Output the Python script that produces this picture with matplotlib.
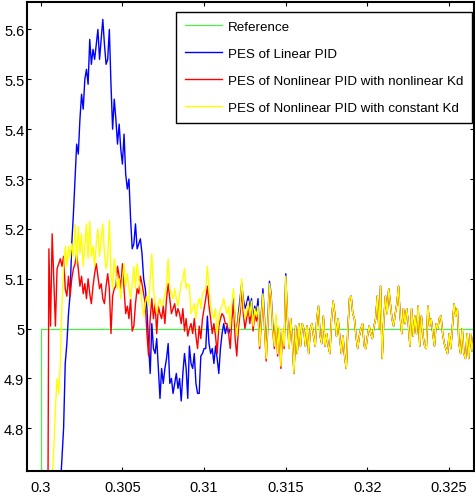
import numpy as np
import matplotlib
matplotlib.use('Agg')
import matplotlib.pyplot as plt
from matplotlib.ticker import FormatStrFormatter

plt.rcParams['font.family'] = ['Liberation Sans', 'DejaVu Sans']

# sample grid, 0.1 ms steps from 0.3 s
t = np.round(0.3 + 0.0001 * np.arange(266), 4)

ref_t = [0.299, 0.3, 0.3, 0.327]
ref_v = [0.0, 0.0, 5.0, 5.0]

# linear PID, before the three traces merge
blue_head = [
    2.6, 3.0, 3.35, 3.65, 3.9, 4.1, 4.25, 4.38, 4.48, 4.56, 4.62, 4.66,
    4.68, 4.74, 4.80, 4.93, 4.97, 5.03, 5.07, 5.17,
    5.23, 5.30, 5.37, 5.35, 5.42, 5.47, 5.44, 5.50, 5.52, 5.49,
    5.58, 5.53, 5.56, 5.54, 5.57, 5.60, 5.54, 5.58, 5.62, 5.57,
    5.53, 5.54, 5.60, 5.49, 5.40, 5.46, 5.42, 5.37, 5.41, 5.36,
    5.33, 5.39, 5.31, 5.28, 5.30, 5.22, 5.16, 5.17, 5.21, 5.16,
    5.17, 5.18, 5.15, 5.10, 5.08, 5.04, 4.97, 4.91, 5.01, 4.96,
    4.95, 4.98, 4.92, 4.86, 4.92, 4.89, 4.92, 4.94, 4.97, 4.89,
    4.90, 4.87, 4.89, 4.91, 4.88, 4.90, 4.855, 4.91, 4.95, 4.92,
    4.86, 4.965, 4.93, 4.92, 4.95, 4.89, 4.87, 4.87, 4.945, 4.95,
    4.96, 4.96, 5.025, 4.97, 4.95, 4.96, 4.93, 4.965, 4.94, 4.91,
    4.96, 4.99, 5.01, 4.99, 5.005, 4.99,
]
blue_settle = [
    5.0, 5.03, 5.06, 5.02, 4.99, 5.03, 5.06, 5.09, 5.06, 5.04,
    5.05, 5.065, 5.04, 5.06, 5.02, 5.045, 5.03, 5.06, 4.98, 5.03,
    5.08, 5.02, 4.95, 5.02, 5.095, 5.07, 5.01, 4.975, 5.02, 4.965,
    5.0, 4.94, 4.99, 4.97, 5.11, 5.02, 4.965,
]

# nonlinear PID with nonlinear Kd
red_head = [
    2.4, 3.0, 3.5, 3.9, 4.3,
    5.16, 5.005, 5.19, 5.10, 5.005,
    5.12, 5.13, 5.14, 5.125, 5.145, 5.08, 5.065, 5.105, 5.065, 5.10,
    5.12, 5.13, 5.15, 5.12, 5.085, 5.105, 5.07, 5.09, 5.06, 5.10,
    5.07, 5.05, 5.085, 5.11, 5.13, 5.105, 5.08, 5.09, 5.06, 5.05,
    5.085, 5.11, 5.08, 4.99, 5.065, 5.08, 5.085, 5.125, 5.105, 5.08,
    5.13, 5.08, 5.03, 5.045, 5.02, 5.06, 4.995, 5.005, 5.05, 5.08,
    5.07, 5.105, 5.09, 5.07, 5.05, 4.99, 4.945, 5.02, 5.06, 5.02,
    5.05, 4.99, 5.045, 5.03, 5.02, 5.045, 5.01, 5.06, 5.09, 5.06,
    5.03, 5.04, 5.05, 5.025, 5.04, 5.03, 5.01, 5.04, 4.995, 5.02,
    4.985, 5.0, 5.01, 4.99, 5.02, 4.985, 4.96, 5.005, 4.98, 5.02,
    5.04, 5.06, 5.085, 5.045, 5.02, 4.99, 5.01, 4.985, 4.95, 5.005,
    5.02, 5.03, 5.025, 5.01, 5.01, 4.99,
]
red_settle = [
    4.96, 5.02, 5.05, 4.98, 4.945, 5.0, 5.03, 5.08, 5.03, 5.0,
    5.02, 5.04, 5.01, 5.04, 4.995, 5.03, 5.015, 5.03, 4.96, 5.01,
    5.06, 5.0, 4.935, 5.0, 5.08, 5.06, 4.995, 4.96, 5.02, 4.945,
    5.0, 4.92, 4.995, 4.96, 5.10, 5.02, 4.96,
]

# nonlinear PID with constant Kd
yellow_head = [
    3.4, 3.75, 4.05, 4.28, 4.45, 4.57, 4.65, 4.70,
    4.76, 4.84,
    4.90, 4.87, 4.93, 5.05, 5.12, 5.165, 5.125, 5.165, 5.14, 5.17,
    5.145, 5.21, 5.13, 5.205, 5.15, 5.19, 5.125, 5.165, 5.21, 5.14,
    5.215, 5.145, 5.165, 5.125, 5.17, 5.20, 5.145, 5.18, 5.21, 5.15,
    5.12, 5.14, 5.217, 5.11, 5.08, 5.14, 5.11, 5.08, 5.10, 5.06,
    5.10, 5.13, 5.085, 5.11, 5.08, 5.06, 5.09, 5.125, 5.08, 5.13,
    5.10, 5.08, 5.05, 5.025, 5.05, 5.065, 5.045, 5.10, 5.15, 5.08,
    5.05, 5.03, 5.05, 5.06, 5.045, 5.05, 5.07, 5.085, 5.14, 5.08,
    5.07, 5.06, 5.08, 5.06, 5.045, 5.07, 5.09, 5.10, 5.12, 5.08,
    5.09, 5.085, 5.03, 5.04, 5.05, 5.02, 5.05, 5.06, 5.04, 5.07,
    5.075, 5.08, 5.125, 5.08, 5.045, 5.03, 5.02, 5.04, 4.99, 5.02,
    5.04, 5.045, 5.06, 5.045, 5.03, 5.045,
]
yellow_settle = [
    5.0, 5.05, 5.08, 5.02, 4.985, 5.02, 5.045, 5.10, 5.05, 5.02,
    5.03, 5.055, 5.025, 5.055, 5.005, 5.04, 5.025, 5.045, 4.965, 5.02,
    5.07, 5.01, 4.94, 5.01, 5.09, 5.065, 5.0, 4.965, 5.03, 4.95,
    5.005, 4.925, 5.0, 4.965, 5.105, 5.025, 4.96,
]

# after ~0.315 s the three responses lie on top of each other
tail = [
    5.02, 4.98, 4.91, 5.005, 4.95, 5.01, 4.965, 5.01, 5.0, 4.965,
    5.005, 4.95, 5.0, 5.01, 4.985, 4.965, 5.02, 5.045, 4.985, 4.97,
    5.025, 4.965, 4.99, 4.965, 4.95, 5.02, 5.055, 5.03, 4.985, 5.02,
    4.985, 4.95, 4.985, 4.945, 4.92, 5.0, 5.06,
    5.065, 5.03, 5.02, 4.985, 4.96, 4.985, 5.0, 5.01, 4.965, 4.96,
    4.985, 5.005, 4.99, 4.98, 5.005, 5.02, 5.065, 5.0, 5.085, 4.94,
    5.02, 5.065, 5.03, 5.08, 5.05, 5.02, 5.005, 5.03, 5.05, 5.085,
    5.025, 4.99, 5.04, 5.01, 5.04, 5.01, 4.965,
    5.04, 4.985, 5.025, 4.99, 5.045, 4.965, 5.025, 4.985, 4.965, 4.96,
    5.045, 5.005, 5.02, 4.99, 4.965, 5.01, 5.0, 5.02, 5.025, 4.99,
    4.97, 4.96, 4.95, 4.99, 4.96, 5.005, 5.05, 5.025, 5.04, 4.97,
    4.95, 5.0, 4.95, 4.94, 4.99, 4.94, 4.99, 4.955, 4.985,
]

pes_linear = blue_head + blue_settle + tail
pes_nonlinear_kd = red_head + red_settle + tail
pes_constant_kd = yellow_head + yellow_settle + tail

x_ticks = [0.3, 0.305, 0.31, 0.315, 0.32, 0.325]
y_ticks = [4.8, 4.9, 5.0, 5.1, 5.2, 5.3, 5.4, 5.5, 5.6]

fig = plt.figure(figsize=(4.75, 5.02), dpi=100)
ax = fig.add_axes([27 / 475, 30.3 / 502, 447 / 475, 468.7 / 502])

ax.plot(ref_t, ref_v, color='#33ff33', lw=0.8, label='Reference')
ax.plot(t, pes_linear, color='#0000ff', lw=1.0, label='PES of Linear PID')
ax.plot(t, pes_nonlinear_kd, color='#ff0000', lw=1.0,
        label='PES of Nonlinear PID with nonlinear Kd')
ax.plot(t, pes_constant_kd, color='#ffff00', lw=1.0,
        label='PES of Nonlinear PID with constant Kd')

ax.set_xlim(0.29916, 0.32652)
ax.set_ylim(4.715, 5.655)
ax.set_xticks(x_ticks)
ax.set_yticks(y_ticks)
ax.xaxis.set_major_formatter(FormatStrFormatter('%g'))
ax.yaxis.set_major_formatter(FormatStrFormatter('%g'))
ax.tick_params(direction='in', length=3, width=0.8, top=True, right=True,
               labelsize=10.5, colors='black')
ax.tick_params(axis='x', pad=7)
ax.tick_params(axis='y', pad=2)
for s in ax.spines.values():
    s.set_linewidth(1.5)
    s.set_color('black')

leg = ax.legend(loc='upper right', bbox_to_anchor=(0.9948, 0.979),
                borderaxespad=0, fancybox=False, framealpha=1,
                edgecolor='black', fontsize=9.6, handlelength=2.8,
                handletextpad=0.4, labelspacing=1.1, borderpad=0.65)
leg.get_frame().set_linewidth(1.0)

plt.savefig('out.png', dpi=100, facecolor='white')
